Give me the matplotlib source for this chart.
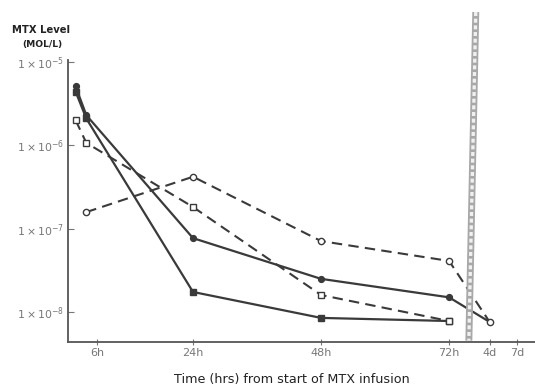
import matplotlib

matplotlib.use("Agg")
import matplotlib.pyplot as plt
import matplotlib.transforms as mtransforms

# x positions are hours on a broken axis: 4d and 7d are squeezed in after 72h
FOUR_D = 79.6
SEVEN_D = 84.8
XTICK_POS = [6, 24, 48, 72, FOUR_D, SEVEN_D]
XTICK_LABELS = ["6h", "24h", "48h", "72h", "4d", "7d"]
YTICKS = [1e-5, 1e-6, 1e-7, 1e-8]
YTICK_LABELS = [r"$1\times10^{-5}$", r"$1\times10^{-6}$",
                r"$1\times10^{-7}$", r"$1\times10^{-8}$"]

# patient series (MOL/L)
open_circle_t = [4, 24, 48, 72, FOUR_D]
open_circle_v = [1.58e-7, 4.2e-7, 7.1e-8, 4.1e-8, 7.6e-9]

open_square_t = [2, 4, 24, 48, 72]
open_square_v = [2.0e-6, 1.07e-6, 1.82e-7, 1.6e-8, 7.8e-9]

filled_circle_t = [2, 4, 24, 48, 72, FOUR_D]
filled_circle_v = [5.1e-6, 2.3e-6, 7.7e-8, 2.5e-8, 1.5e-8, 7.6e-9]

filled_square_t = [2, 4, 24, 48, 72]
filled_square_v = [4.4e-6, 2.1e-6, 1.74e-8, 8.5e-9, 7.8e-9]

LEUCOVORIN_STOP = 76.3

INK = "#3a3a3a"
GRAY = "#777777"

fig = plt.figure(figsize=(5.35, 3.87), dpi=100)
ax = fig.add_axes([0.127, 0.116, 0.873, 0.729])

dash = (0, (5, 3))
ax.plot(filled_square_t, filled_square_v, color=INK, lw=1.6, marker="s",
        ms=4.2, mfc=INK, mec=INK)
ax.plot(filled_circle_t, filled_circle_v, color=INK, lw=1.6, marker="o",
        ms=4.2, mfc=INK, mec=INK, markevery=list(range(5)))
ax.plot(open_square_t, open_square_v, color=INK, lw=1.5, ls=dash, marker="s",
        ms=5, mfc="white", mec=INK, mew=1.0)
ax.plot(open_circle_t, open_circle_v, color=INK, lw=1.5, ls=dash, marker="o",
        ms=4.5, mfc="white", mec=INK, mew=1.0)

# chain-like vertical band
trans = mtransforms.blended_transform_factory(ax.transData, ax.transAxes)
band_x = [LEUCOVORIN_STOP + 0.7, LEUCOVORIN_STOP - 0.6]
band_y = [1.17, 0.005]
ax.plot(band_x, band_y, transform=trans, color="#a8a8a8", lw=5.0,
        clip_on=False, zorder=5, solid_capstyle="butt")
ax.plot(band_x, band_y, transform=trans, color="#f0f0f0", lw=2.4,
        clip_on=False, zorder=6, ls=(0, (1.2, 0.8)))

ax.set_yscale("log")
ax.set_xlim(0.56, 88.1)
ax.set_ylim(10 ** -8.361, 10 ** -4.976)

ax.set_xticks(XTICK_POS)
ax.set_xticklabels(XTICK_LABELS)
ax.set_yticks(YTICKS)
ax.set_yticklabels(YTICK_LABELS)
ax.minorticks_off()
ax.tick_params(axis="x", direction="inout", length=5, width=0.8, colors=GRAY,
               labelsize=8, pad=2)
ax.tick_params(axis="y", direction="in", length=4, width=0.8, colors=GRAY,
               labelsize=7.8, pad=3)

for side in ("top", "right"):
    ax.spines[side].set_visible(False)
for side in ("left", "bottom"):
    ax.spines[side].set_color("#555555")
    ax.spines[side].set_linewidth(1.3)

fig.text(12 / 535, 1 - 30 / 387, "MTX Level", fontsize=7.2, fontweight="bold",
         color="#222222", va="center", ha="left")
fig.text(22 / 535, 1 - 44 / 387, "(MOL/L)", fontsize=6.6, fontweight="bold",
         color="#222222", va="center", ha="left")
fig.text(292 / 535, 1 - 379 / 387, "Time (hrs) from start of MTX infusion",
         fontsize=9.2, color="#222222", va="center", ha="center")

fig.savefig("out.png", dpi=100)
